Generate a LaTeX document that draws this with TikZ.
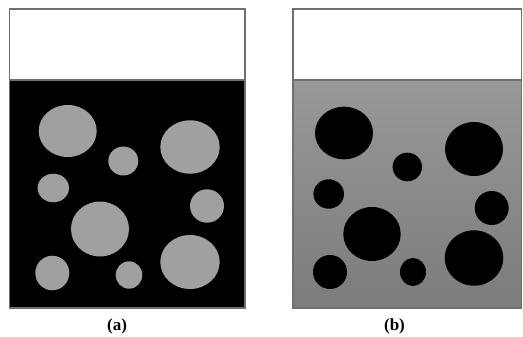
\documentclass[tikz,border=0pt]{standalone}
\usepackage{fontspec}
\setmainfont{Liberation Serif}
\begin{document}
\begin{tikzpicture}[x=1pt,y=-1pt,
  frame/.style={draw={rgb,255:red,112;green,112;blue,112},line width=1.3pt},
  lightdot/.style={fill={rgb,255:red,160;green,160;blue,160}},
  darkdot/.style={fill=black},
  caption/.style={font=\fontsize{17}{20}\selectfont\bfseries,inner sep=0pt}]
\useasboundingbox (0,0) rectangle (523,337);
\fill[white] (0,0) rectangle (523,337);
% left panel
\fill[black] (9.5,80) rectangle (245,308);
\draw[frame] (9.5,9) rectangle (245,308);
\draw[frame] (9.5,80) -- (245,80);
\fill[lightdot] (67.7,131) ellipse [x radius=29,y radius=26];
\fill[lightdot] (123.3,161) ellipse [x radius=15,y radius=14.5];
\fill[lightdot] (190,147) ellipse [x radius=29.7,y radius=26.7];
\fill[lightdot] (53.3,188) ellipse [x radius=15.7,y radius=14.3];
\fill[lightdot] (207,206) ellipse [x radius=17,y radius=16.7];
\fill[lightdot] (100,229) ellipse [x radius=29,y radius=27.5];
\fill[lightdot] (52.3,273) ellipse [x radius=17,y radius=17.3];
\fill[lightdot] (129,275) ellipse [x radius=13.3,y radius=13.7];
\fill[lightdot] (190,262) ellipse [x radius=29.7,y radius=27];
\node[caption] (capa) at (117,326) {(a)};
% right panel
\shade[top color={rgb,255:red,152;green,152;blue,152},bottom color={rgb,255:red,124;green,124;blue,124}] (293,80) rectangle (521.5,308);
\draw[frame] (293,9) rectangle (521.5,308);
\draw[frame] (293,80) -- (521.5,80);
\fill[darkdot] (344,133) ellipse [x radius=29,y radius=26.3];
\fill[darkdot] (407.3,167) ellipse [x radius=14.7,y radius=14.3];
\fill[darkdot] (474,149) ellipse [x radius=29,y radius=27];
\fill[darkdot] (328.7,194) ellipse [x radius=15.3,y radius=14.7];
\fill[darkdot] (491.7,208) ellipse [x radius=17,y radius=17];
\fill[darkdot] (372,234) ellipse [x radius=28.7,y radius=27];
\fill[darkdot] (330,272) ellipse [x radius=17,y radius=17];
\fill[darkdot] (413,272) ellipse [x radius=13,y radius=14];
\fill[darkdot] (474,258) ellipse [x radius=29.3,y radius=27.7];
\node[caption] (capb) at (394.5,326) {(b)};
\end{tikzpicture}
\end{document}
